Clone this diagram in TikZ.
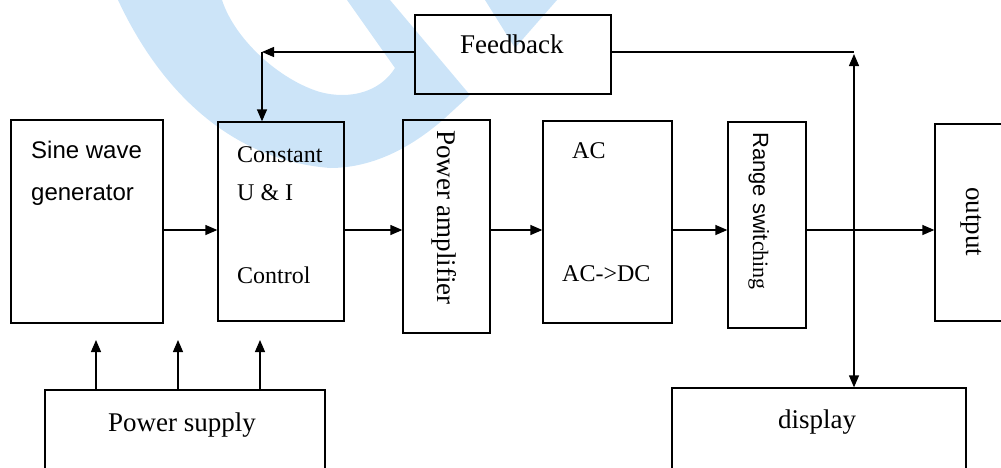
\documentclass[tikz,border=0pt]{standalone}
\usepackage{fontspec}
\setmainfont{Liberation Serif}
\setsansfont{Liberation Sans}
\usetikzlibrary{arrows.meta}
\definecolor{wmblue}{RGB}{204,228,248}
\begin{document}
\begin{tikzpicture}[x=1pt,y=-1pt,
  box/.style={draw, line width=1.3pt, inner sep=0pt},
  ln/.style={line width=1.3pt},
  arr/.style={line width=1.3pt, -{Triangle[length=12pt,width=10pt]}},
  darr/.style={line width=1.3pt, {Triangle[length=12pt,width=10pt]}-{Triangle[length=12pt,width=10pt]}},
  lbl/.style={inner sep=0pt, anchor=base west, font=\fontsize{24}{28}\selectfont},
  lblL/.style={inner sep=0pt, anchor=base west, font=\fontsize{27}{32}\selectfont},
  lblS/.style={inner sep=0pt, anchor=base west, font=\sffamily\fontsize{24}{28}\selectfont},
  wm/.style={fill=wmblue}]
\useasboundingbox (0,0) rectangle (1001,467);
\clip (0,0) rectangle (1001,467);
% watermark
\fill[wm] (118,0) .. controls (160,90) and (230,160) .. (330,168)
  .. controls (380,168) and (420,140) .. (445,118) -- (470,95) -- (390,0) -- (347,0) -- (395,68)
  .. controls (380,92) and (350,100) .. (320,92) .. controls (280,80) and (235,40) .. (222,0) -- cycle;
\fill[wm] (485,0) -- (557,0) -- (515,48) -- cycle;
% boxes
\node[box, minimum width=152pt, minimum height=203pt] (sine) at (87,221.5) {};
\node[box, minimum width=126pt, minimum height=199pt] (const) at (281,221.5) {};
\node[box, minimum width=87pt, minimum height=213pt] (pamp) at (446.5,226.5) {};
\node[box, minimum width=196pt, minimum height=79pt] (fb) at (513,54.5) {};
\node[box, minimum width=129pt, minimum height=202pt] (ac) at (607.5,222) {};
\node[box, minimum width=78pt, minimum height=206pt] (range) at (767,225) {};
\node[box, minimum width=80pt, minimum height=197pt] (out) at (975,222.5) {};
\node[box, minimum width=280pt, minimum height=90pt] (ps) at (185,435) {};
\node[box, minimum width=294pt, minimum height=90pt] (disp) at (819,433) {};
% labels
\node[lblS] (t1) at (31,158) {Sine wave};
\node[lblS] (t2) at (31,200) {generator};
\node[lbl] (t3) at (237,162) {Constant};
\node[lbl] (t4) at (237,200) {U \& I};
\node[lbl] (t5) at (237,283) {Control};
\node[lblL, rotate=-90] (t6) at (437,130) {Power amplifier};
\node[lbl] (t7) at (572,158) {AC};
\node[lbl] (t8) at (562,281) {AC-{}>DC};
\node[inner sep=0pt, anchor=base west, rotate=-90, font=\fontsize{22}{26}\selectfont] (t9) at (753,132) {{\sffamily Range swit}ching};
\node[lblL, rotate=-90] (t10) at (966,187) {output};
\node[lblL] (t11) at (460,53) {Feedback};
\node[lblL] (t12) at (108,431) {Power supply};
\node[lblL] (t13) at (778,428) {display};
% main chain
\coordinate (my) at (0,230);
\draw[arr] (sine.east |- my) -- (const.west |- my);
\draw[arr] (const.east |- my) -- (pamp.west |- my);
\draw[arr] (pamp.east |- my) -- (ac.west |- my);
\draw[arr] (ac.east |- my) -- (range.west |- my);
\draw[arr] (range.east |- my) -- (out.west |- my);
% feedback
\coordinate (fbl) at (262,52);
\draw[arr] (fb.west |- fbl) -- (fbl);
\draw[arr] (fbl) -- (const.north -| fbl);
\coordinate (fbr) at (854,52);
\coordinate (fbrt) at (854,54);
\draw[ln] (fb.east |- fbr) -- (fbr);
\draw[darr] (fbrt) -- (disp.north -| fbrt);
% power supply
\coordinate (p1) at (96,340);
\coordinate (p2) at (178,340);
\coordinate (p3) at (260,340);
\draw[arr] (ps.north -| p1) -- (p1);
\draw[arr] (ps.north -| p2) -- (p2);
\draw[arr] (ps.north -| p3) -- (p3);
\end{tikzpicture}
\end{document}
